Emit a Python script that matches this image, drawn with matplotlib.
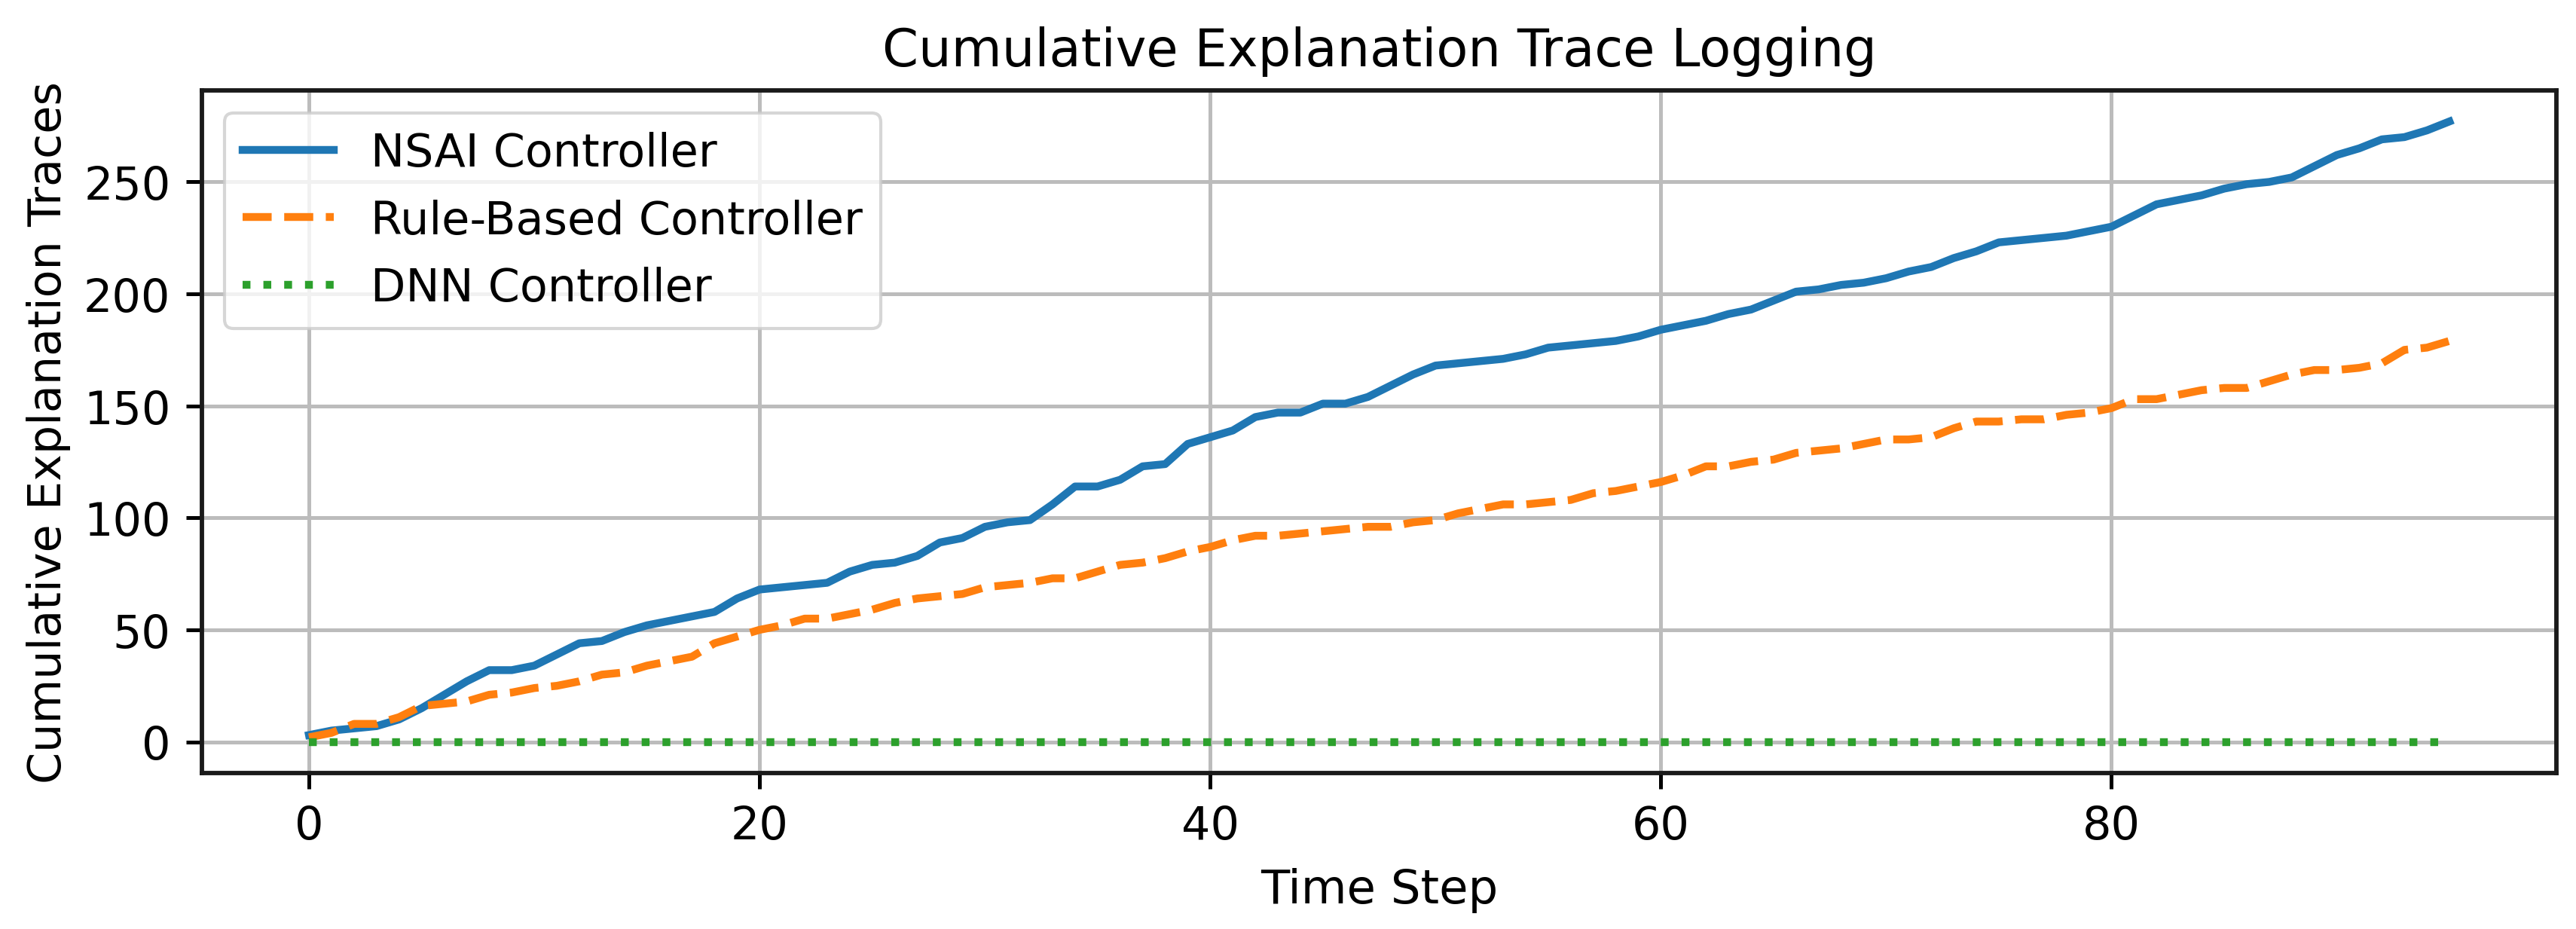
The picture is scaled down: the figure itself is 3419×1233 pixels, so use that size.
import matplotlib
matplotlib.use("Agg")
import matplotlib.pyplot as plt

# time steps 0..95
steps = list(range(96))

nsai = [3, 5, 6, 7, 10, 15, 21, 27, 32, 32,
        34, 39, 44, 45, 49, 52, 54, 56, 58, 64,
        68, 69, 70, 71, 76, 79, 80, 83, 89, 91,
        96, 98, 99, 106, 114, 114, 117, 123, 124, 133,
        136, 139, 145, 147, 147, 151, 151, 154, 159, 164,
        168, 169, 170, 171, 173, 176, 177, 178, 179, 181,
        184, 186, 188, 191, 193, 197, 201, 202, 204, 205,
        207, 210, 212, 216, 219, 223, 224, 225, 226, 228,
        230, 235, 240, 242, 244, 247, 249, 250, 252, 257,
        262, 265, 269, 270, 273, 277]

rule_based = [2, 4, 8, 8, 11, 16, 17, 18, 21, 22,
              24, 25, 27, 30, 31, 34, 36, 38, 44, 47,
              50, 52, 55, 55, 57, 59, 62, 64, 65, 66,
              69, 70, 71, 73, 73, 76, 79, 80, 82, 85,
              87, 90, 92, 92, 93, 94, 95, 96, 96, 98,
              99, 102, 104, 106, 106, 107, 108, 111, 112, 114,
              116, 119, 123, 123, 125, 126, 129, 130, 131, 133,
              135, 135, 136, 140, 143, 143, 144, 144, 146, 147,
              149, 153, 153, 155, 157, 158, 158, 161, 164, 166,
              166, 167, 169, 175, 176, 179]

dnn = [0] * 96

plt.rcParams['font.family'] = 'DejaVu Sans'

fig = plt.figure(figsize=(11.397, 4.113), dpi=300)
ax = fig.add_axes([0.0784, 0.168, 0.914, 0.734])

ax.plot(steps, nsai, color="#1f77b4", linewidth=2.5, label="NSAI Controller")
ax.plot(steps, rule_based, color="#ff7f0e", linewidth=2.5, linestyle="--", label="Rule-Based Controller")
ax.plot(steps, dnn, color="#2ca02c", linewidth=2.5, linestyle=":", label="DNN Controller")

ax.set_title("Cumulative Explanation Trace Logging", fontsize=16.5, pad=8)
ax.set_xlabel("Time Step", fontsize=15, labelpad=6)
ax.set_ylabel("Cumulative Explanation Traces", fontsize=14.5)
ax.set_xticks([0, 20, 40, 60, 80])
ax.set_yticks([0, 50, 100, 150, 200, 250])
ax.tick_params(labelsize=14.5, length=5, width=1.2, pad=5)
ax.grid(True, color="#bcbcbc", linewidth=1.2)
for s in ax.spines.values():
    s.set_linewidth(1.4)
    s.set_color("#1a1a1a")

ax.legend(loc="upper left", fontsize=14.5)

plt.savefig("out.png", dpi=300)
